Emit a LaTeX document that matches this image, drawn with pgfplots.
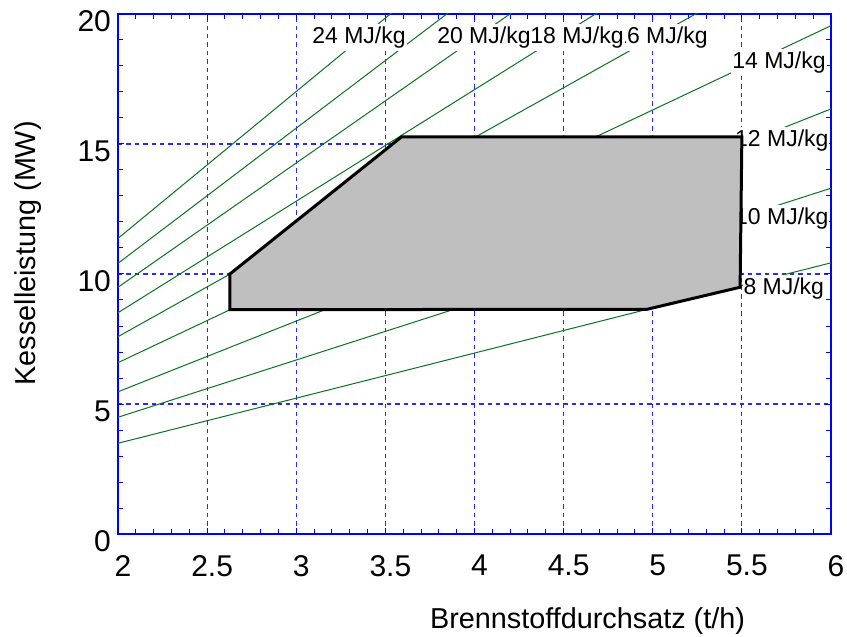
\documentclass[border=0pt]{standalone}
\usepackage{fontspec}
\setmainfont{Liberation Sans}
\usepackage{pgfplots}
\pgfplotsset{compat=1.18}
\definecolor{lgreen}{RGB}{10,115,30}
\definecolor{polyg}{RGB}{191,191,191}
\definecolor{gblue}{RGB}{40,40,255}
\tikzset{lbl/.style={fill=white, inner xsep=0.5pt, inner ysep=1.2pt, anchor=center, font=\fontsize{11.5}{13}\selectfont}}
\begin{document}
\begin{tikzpicture}
\begin{axis}[
  name=ax,
  scale only axis,
  width=356.5pt, height=260pt,
  xmin=2, xmax=6, ymin=0, ymax=20,
  xtick={2,2.5,3,3.5,4,4.5,5,5.5,6},
  xticklabels={2,2.5,3,3.5,4,4.5,5,5.5,6},
  ytick={0,5,10,15,20},
  yticklabels={0,5,10,15,20},
  minor x tick num=4, minor y tick num=4,
  tick align=inside,
  axis line style={blue, line width=0.75pt},
  tick style={blue, line width=0.5pt},
  major tick length=3pt, minor tick length=2.5pt,
  grid=major,
  major grid style={draw=gblue, line width=0.6pt, dash pattern=on 2.2pt off 2pt},
  ticklabel style={font=\fontsize{15}{18}\selectfont, text=black},
  xticklabel style={yshift=-7pt, xshift=2.5pt},
  yticklabel style={yshift=-3.5pt},
  xlabel={Brennstoffdurchsatz (t/h)},
  ylabel={Kesselleistung (MW)},
  label style={font=\fontsize{14.4}{17}\selectfont},
  xlabel style={at={(rel axis cs:0.6585,-0.1673)}, anchor=center},
  ylabel style={at={(rel axis cs:-0.1262,0.54)}, anchor=center},
]
% constant heating value lines (8 ... 24 MJ/kg)
\addplot[lgreen, line width=0.5pt] coordinates {(2,3.49) (6,10.43)};
\addplot[lgreen, line width=0.5pt] coordinates {(2,4.49) (6,13.30)};
\addplot[lgreen, line width=0.5pt] coordinates {(2,5.47) (6,16.35)};
\addplot[lgreen, line width=0.5pt] coordinates {(2,6.59) (6,19.55)};
\addplot[lgreen, line width=0.5pt] coordinates {(2,7.59) (6,22.91)};
\addplot[lgreen, line width=0.5pt] coordinates {(2,8.51) (6,25.67)};
\addplot[lgreen, line width=0.5pt] coordinates {(2,9.49) (6,28.61)};
\addplot[lgreen, line width=0.5pt] coordinates {(2,10.41) (6,31.21)};
\addplot[lgreen, line width=0.5pt] coordinates {(2,11.37) (6,33.97)};
% labels
\node[lbl] at (axis cs:3.352,19.10) {24 MJ/kg};
\node[lbl] at (axis cs:4.053,19.10) {20 MJ/kg};
\node[lbl] at (axis cs:5.046,19.10) {16 MJ/kg};
\node[lbl] at (axis cs:4.575,19.10) {18 MJ/kg};
\node[lbl] at (axis cs:5.708,18.15) {14 MJ/kg};
\node[lbl] at (axis cs:5.724,15.15) {12 MJ/kg};
\node[lbl] at (axis cs:5.724,12.14) {10 MJ/kg};
\node[lbl] at (axis cs:5.735,9.45) {8 MJ/kg};
% operating range
\addplot[fill=polyg, draw=black, line width=1.5pt, line join=miter] coordinates {
  (2.628,8.63) (4.966,8.64) (5.49,9.49) (5.50,15.27) (3.59,15.27) (2.628,10.0)} -- cycle;
\end{axis}
\pgfresetboundingbox
\useasboundingbox ([shift={(-59pt,-51pt)}]ax.south west) rectangle ([shift={(8pt,7pt)}]ax.north east);
\end{tikzpicture}
\end{document}
